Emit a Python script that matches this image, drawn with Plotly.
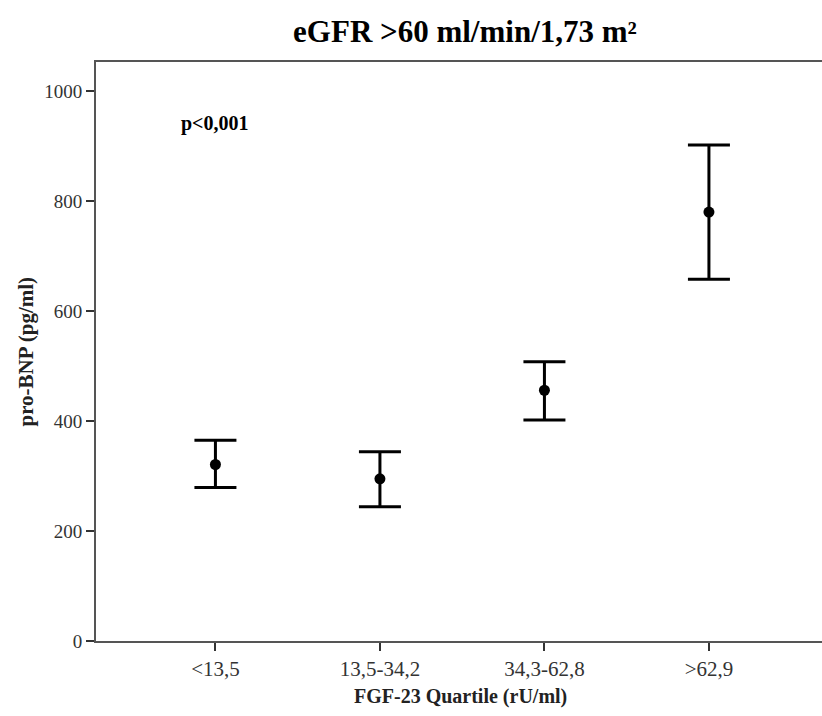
import plotly.graph_objects as go

categories = ["<13,5", "13,5-34,2", "34,3-62,8", ">62,9"]
means = [321, 295, 456, 780]
upper = [365, 344, 508, 902]
lower = [279, 244, 402, 658]
y_ticks = [0, 200, 400, 600, 800, 1000]

err_plus = [u - m for u, m in zip(upper, means)]
err_minus = [m - l for m, l in zip(means, lower)]

FONT = "Liberation Serif"
W = 832

fig = go.Figure()
fig.add_trace(go.Scatter(
    x=list(range(len(categories))), y=means, mode="markers",
    marker=dict(color="black", size=11),
    error_y=dict(type="data", symmetric=False, array=err_plus, arrayminus=err_minus,
                 color="black", thickness=3, width=21),
    showlegend=False, hoverinfo="skip",
))

fig.update_layout(
    width=W, height=716,
    paper_bgcolor="white", plot_bgcolor="white",
    margin=dict(l=96, r=0, t=62, b=75, autoexpand=False),
    title=dict(text="<b>eGFR >60 ml/min/1,73 m²</b>", x=465 / W, xanchor="center",
               y=0.957, yanchor="middle", automargin=False,
               font=dict(family=FONT, size=31, color="black")),
    font=dict(family=FONT),
    annotations=[
        dict(text="<b>p<0,001</b>", x=0.0, y=942, xref="x", yref="y",
             showarrow=False, font=dict(family=FONT, size=20, color="black")),
        dict(text="<b>FGF-23 Quartile (rU/ml)</b>", x=460, y=-0.096, xref="x domain" if False else "paper",
             yref="paper", xanchor="center", yanchor="middle", showarrow=False,
             font=dict(family=FONT, size=20, color="#222")),
        dict(text="<b>pro-BNP (pg/ml)</b>", x=-0.098, y=0.5, xref="paper", yref="paper",
             xanchor="center", yanchor="middle", textangle=-90, showarrow=False,
             font=dict(family=FONT, size=21, color="#222")),
    ],
)
# x title centre at ~460 px
fig.layout.annotations[1].x = (460 - 96) / (W - 96)
fig.layout.annotations[2].x = (25 - 96) / (W - 96)

fig.update_xaxes(
    range=[-0.726, -0.726 + (W - 96) / 164.5], tickmode="array",
    tickvals=list(range(len(categories))),
    ticktext=categories, ticks="outside", ticklen=8, tickwidth=2, tickcolor="#333",
    showline=True, linecolor="#555", linewidth=2, mirror=True, showgrid=False, zeroline=False,
    automargin=False,
    tickfont=dict(family=FONT, size=21, color="#333"),
)
fig.update_yaxes(
    range=[0, 1053], tickmode="array", tickvals=y_ticks, ticks="outside", ticklen=8,
    tickwidth=2, tickcolor="#333", showline=True, linecolor="#555", linewidth=2,
    showgrid=False, zeroline=False, automargin=False,
    tickfont=dict(family=FONT, size=19, color="#333"),
)

fig.write_html(
    "out.html",
    config={"displayModeBar": False},
    post_script="document.body.style.margin='0';document.body.style.overflow='hidden';",
)
